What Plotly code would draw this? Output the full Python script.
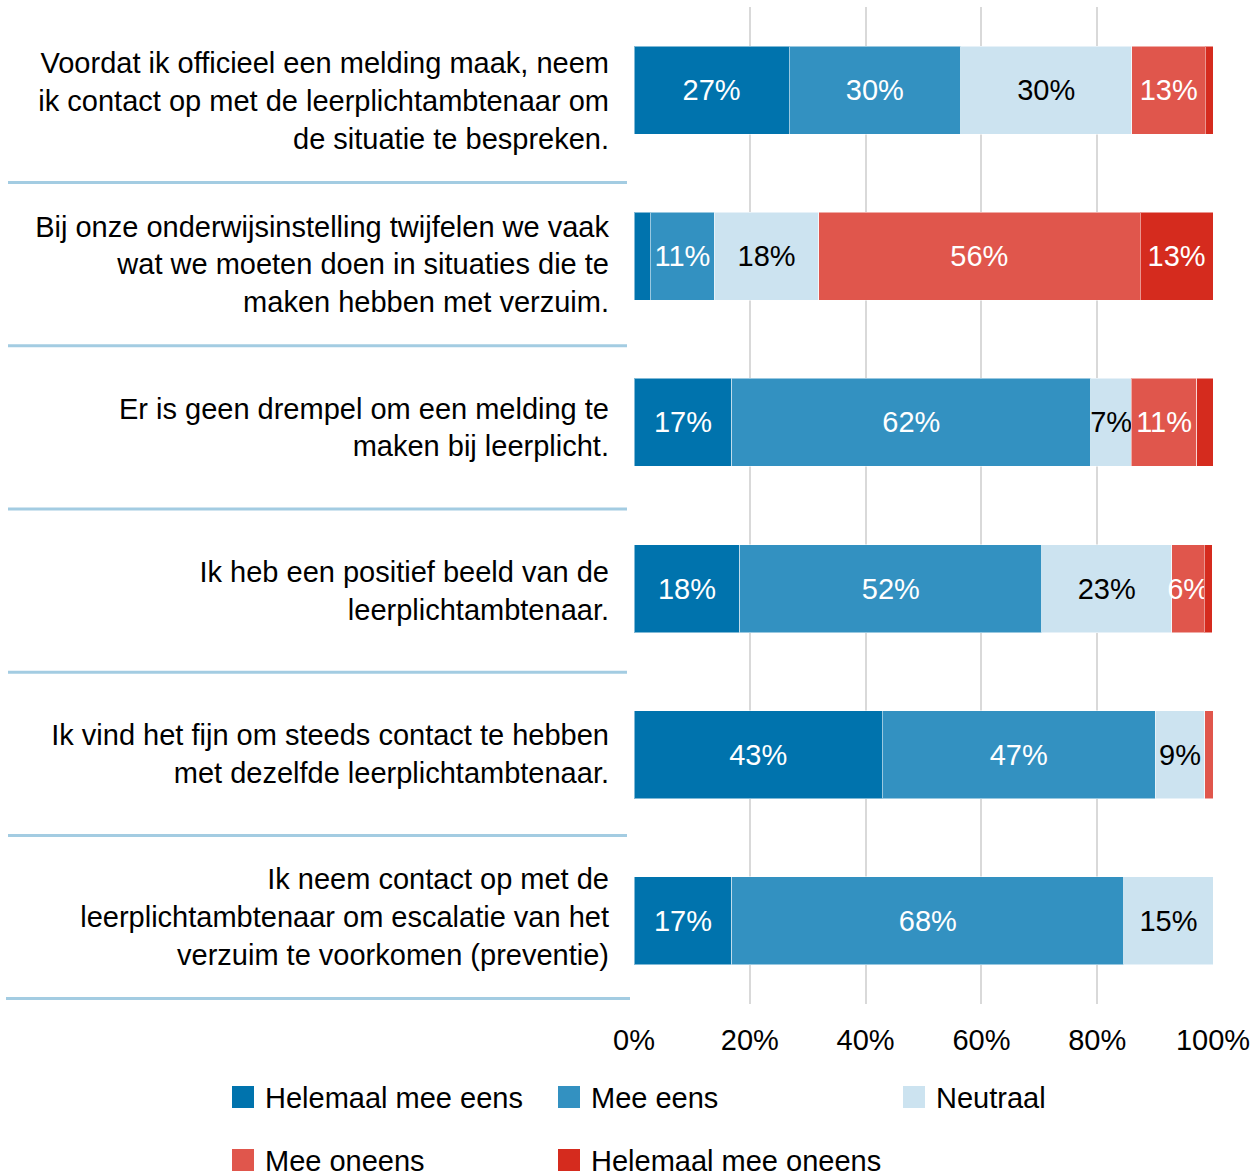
"""
Stellingen over de leerplichtambtenaar - gestapelde 100% bar chart.
"""

import plotly.graph_objects as go

# --- data -------------------------------------------------------------
stellingen = [
    "Voordat ik officieel een melding maak, neem<br>ik contact op met de leerplichtambtenaar om<br>de situatie te bespreken.",
    "Bij onze onderwijsinstelling twijfelen we vaak<br>wat we moeten doen in situaties die te<br>maken hebben met verzuim.",
    "Er is geen drempel om een melding te<br>maken bij leerplicht.",
    "Ik heb een positief beeld van de<br>leerplichtambtenaar.",
    "Ik vind het fijn om steeds contact te hebben<br>met dezelfde leerplichtambtenaar.",
    "Ik neem contact op met de<br>leerplichtambtenaar om escalatie van het<br>verzuim te voorkomen (preventie)",
]

antwoorden = ["Helemaal mee eens", "Mee eens", "Neutraal", "Mee oneens", "Helemaal mee oneens"]

helemaal_eens = [26.8, 2.8, 16.9, 18.3, 42.9, 16.9]
mee_eens = [29.6, 11.1, 62.0, 52.1, 47.1, 67.7]
neutraal = [29.6, 18.0, 7.0, 22.5, 8.6, 15.4]
mee_oneens = [12.7, 55.5, 11.3, 5.6, 1.4, 0.0]
helemaal_oneens = [1.4, 12.6, 2.8, 1.4, 0.0, 0.0]

x_ticks = [0, 20, 40, 60, 80, 100]
x_ticktext = ["0%", "20%", "40%", "60%", "80%", "100%"]

# --- stijl ------------------------------------------------------------
KLEUREN = ["#0073AD", "#3391C1", "#CCE3F0", "#E0564C", "#D52B1E"]
TEKSTKLEUREN = ["white", "white", "black", "white", "white"]
FONT = "Liberation Sans, Arial, sans-serif"
W, H = 1259, 1174
L, R, T, B = 634, 46, 7, 170


def px_x(px):
    return (px - L) / (W - L - R)


def px_y(py):
    return (H - B - py) / (H - T - B)


def label(v):
    return f"{int(v + 0.5)}%" if v >= 5 else ""


reeksen = [helemaal_eens, mee_eens, neutraal, mee_oneens, helemaal_oneens]
n = len(stellingen)

fig = go.Figure()

for naam, waarden, kleur, tkleur in zip(antwoorden, reeksen, KLEUREN, TEKSTKLEUREN):
    fig.add_trace(go.Bar(
        y=list(range(n)),
        x=waarden,
        orientation="h",
        name=naam,
        marker=dict(color=kleur, line=dict(color="rgba(255,255,255,0.5)", width=1)),
        text=[label(v) for v in waarden],
        textposition="inside",
        insidetextanchor="middle",
        textangle=0,
        textfont=dict(color=tkleur, size=29, family=FONT),
        cliponaxis=True,
        hoverinfo="skip",
    ))

# lege traces zodat de extra assen (gridlijnen, labels) getekend worden
fig.add_trace(go.Scatter(x=[None], y=[None], xaxis="x2", yaxis="y", showlegend=False, hoverinfo="skip"))
fig.add_trace(go.Scatter(x=[None], y=[None], xaxis="x", yaxis="y2", showlegend=False, hoverinfo="skip"))

# scheidingslijnen tussen de stellingen
for i in range(n):
    laatste = i == n - 1
    fig.add_shape(
        type="line", xref="paper", yref="y2",
        x0=px_x(6 if laatste else 8), x1=px_x(630 if laatste else 627),
        y0=i + 0.5, y1=i + 0.5,
        line=dict(color="#A3CCE2", width=3),
    )

# legenda (handmatig, grote vierkantjes)
legenda_pos = [(232, 1097), (558, 1097), (903, 1097), (232, 1160), (558, 1160)]
for naam, kleur, (lx, ly) in zip(antwoorden, KLEUREN, legenda_pos):
    fig.add_shape(
        type="rect", xref="paper", yref="paper",
        x0=px_x(lx), x1=px_x(lx + 22),
        y0=px_y(ly - 11), y1=px_y(ly + 11),
        fillcolor=kleur, line=dict(width=0),
    )
    fig.add_annotation(
        text=naam, xref="paper", yref="paper",
        x=px_x(lx + 31), y=px_y(ly + 1),
        xanchor="left", yanchor="middle", showarrow=False,
        font=dict(size=29, color="black", family=FONT),
    )

fig.update_layout(
    width=W,
    height=H,
    barmode="stack",
    bargap=0.47,
    showlegend=False,
    plot_bgcolor="white",
    paper_bgcolor="white",
    margin=dict(l=L, r=R, t=T, b=B),
    font=dict(family=FONT, size=29, color="black"),
    uniformtext=dict(minsize=29, mode="show"),
    xaxis=dict(
        range=[0, 100],
        tickvals=x_ticks,
        ticktext=x_ticktext,
        showgrid=False,
        zeroline=False,
        showline=False,
        ticks="",
        ticklabelstandoff=16,
        tickfont=dict(size=29),
    ),
    xaxis2=dict(
        overlaying="x",
        matches="x",
        range=[0, 100],
        tickvals=[20, 40, 60, 80],
        showticklabels=False,
        showgrid=True,
        gridcolor="#D9D9D9",
        gridwidth=2,
        zeroline=False,
        ticks="",
    ),
    yaxis=dict(
        type="linear",
        range=[n - 0.5, -0.5],
        showgrid=False,
        zeroline=False,
        showticklabels=False,
        ticks="",
    ),
    # labels staan op een eigen schaal, gecentreerd tussen de scheidingslijnen
    yaxis2=dict(
        type="linear",
        overlaying="y",
        side="left",
        anchor="x",
        range=[5.533, -0.576],
        tickvals=list(range(n)),
        ticktext=stellingen,
        showgrid=False,
        zeroline=False,
        ticks="",
        ticklabelstandoff=24,
        tickfont=dict(size=29),
    ),
)

fig.write_html(
    "out.html",
    config={"displayModeBar": False},
    post_script="document.body.style.margin='0px';",
)
